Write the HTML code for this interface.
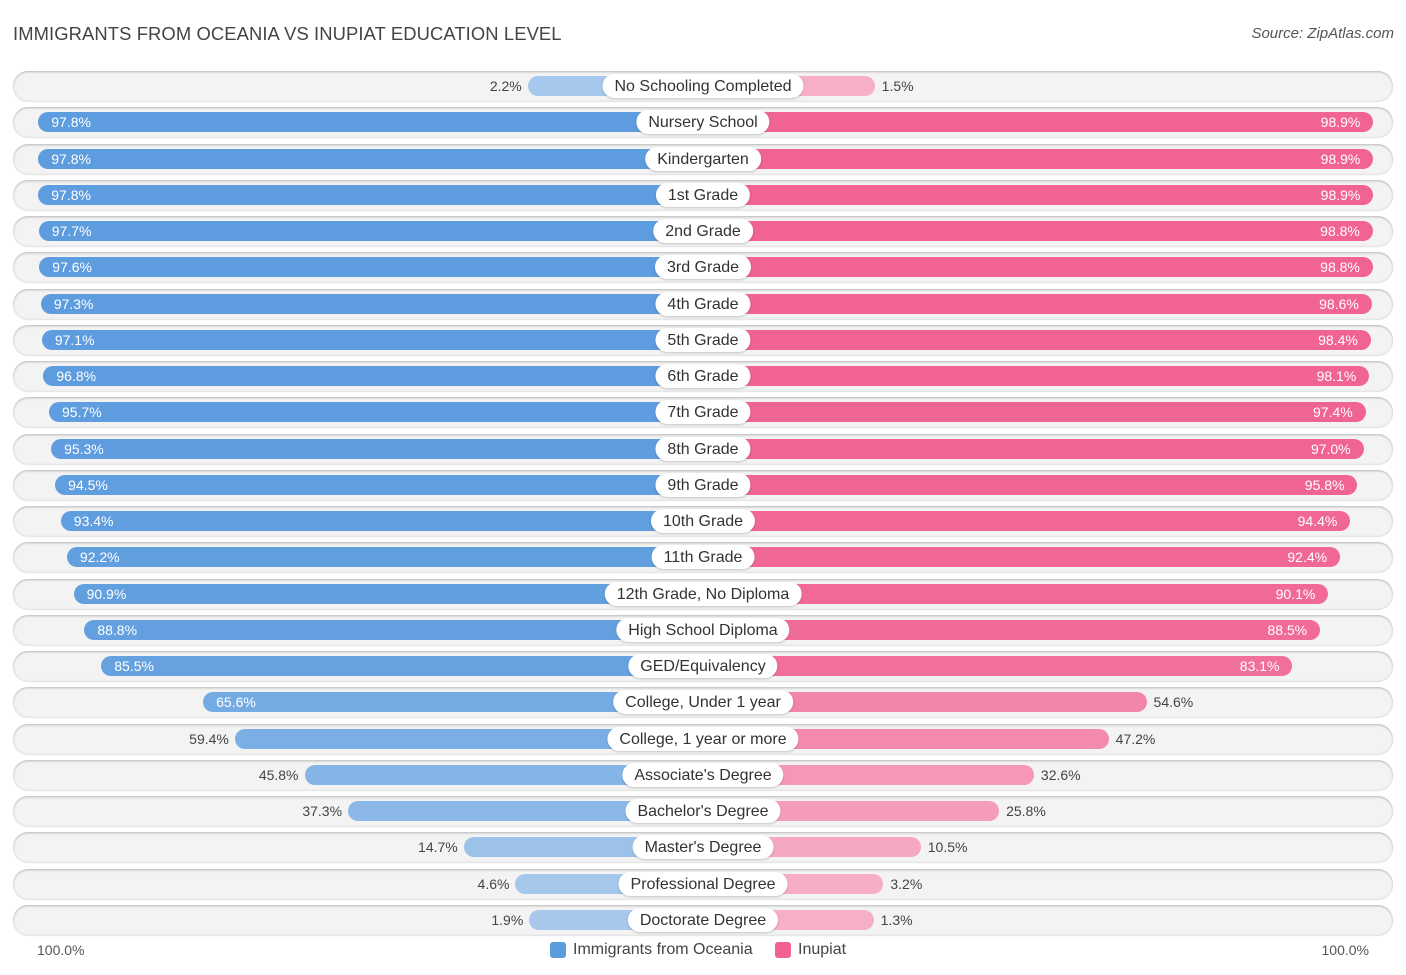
<!DOCTYPE html>
<html><head><meta charset="utf-8">
<style>
body{margin:0;background:#fff;font-family:"Liberation Sans",sans-serif;}
#wrap{position:relative;width:1406px;height:975px;overflow:hidden;}
.title{position:absolute;left:13px;top:23px;font-size:18.4px;color:#444;letter-spacing:0.1px}
.src{position:absolute;right:12px;top:25px;font-size:15px;color:#555;font-style:italic}
.row{position:absolute;left:13px;width:1380px;height:30px;border-radius:15px;background:#f3f3f3;box-shadow:0 1px 2px rgba(0,0,0,.25) inset, 0 1px 1px rgba(0,0,0,.12);}
.bar{position:absolute;height:20px;border-radius:10px;}
.lab{position:absolute;height:24px;line-height:25px;padding:0 12px;background:#fff;border-radius:12px;font-size:16px;color:#333;transform:translateX(-50%);white-space:nowrap;box-shadow:0 1px 2px rgba(0,0,0,.2)}
.val{position:absolute;font-size:14px;line-height:21px;white-space:nowrap}
.ax{position:absolute;top:942px;font-size:14px;color:#555}
.leg{position:absolute;top:941px;font-size:16px;color:#444;display:flex;align-items:center}
.sw{width:16px;height:16px;border-radius:3px;margin-right:7px}
</style></head><body>
<div id="wrap">
<div class="title">IMMIGRANTS FROM OCEANIA VS INUPIAT EDUCATION LEVEL</div>
<div class="src">Source: ZipAtlas.com</div>
<div class="ax" style="left:37px">100.0%</div>
<div class="ax" style="right:37px">100.0%</div>
<div class="leg" style="left:550px"><div class="sw" style="background:#5b9bde"></div>Immigrants from Oceania</div>
<div class="leg" style="left:775px"><div class="sw" style="background:#f06292"></div>Inupiat</div>
</div>
<script>
const categories=["No Schooling Completed","Nursery School","Kindergarten","1st Grade","2nd Grade","3rd Grade","4th Grade","5th Grade","6th Grade","7th Grade","8th Grade","9th Grade","10th Grade","11th Grade","12th Grade, No Diploma","High School Diploma","GED/Equivalency","College, Under 1 year","College, 1 year or more","Associate's Degree","Bachelor's Degree","Master's Degree","Professional Degree","Doctorate Degree"];
const oceania=[2.2,97.8,97.8,97.8,97.7,97.6,97.3,97.1,96.8,95.7,95.3,94.5,93.4,92.2,90.9,88.8,85.5,65.6,59.4,45.8,37.3,14.7,4.6,1.9];
const inupiat=[1.5,98.9,98.9,98.9,98.8,98.8,98.6,98.4,98.1,97.4,97.0,95.8,94.4,92.4,90.1,88.5,83.1,54.6,47.2,32.6,25.8,10.5,3.2,1.3];
const wrap=document.getElementById('wrap');
const cx=703;
function len(v){return 164+5.12*v;}
function rowY(i){return 86+i*36.26;}
function mix(a,b,t){return 'rgb('+a.map((x,k)=>Math.round(x+(b[k]-x)*t)).join(',')+')';}
const bL=[168,201,236],bD=[91,155,222],pL=[247,176,198],pD=[240,98,146];
categories.forEach((c,i)=>{
  const y=rowY(i);
  const r=document.createElement('div');r.className='row';r.style.top=(y-15)+'px';
  
  
  wrap.appendChild(r);
  const lv=oceania[i],rv=inupiat[i];
  const lw=len(lv),rw=len(rv);
  const b1=document.createElement('div');b1.className='bar';
  b1.style.left=(cx-lw)+'px';b1.style.width=lw+'px';b1.style.top=(y-10)+'px';
  b1.style.background=mix(bL,bD,lv/100);
  
  
  wrap.appendChild(b1);
  const b2=document.createElement('div');b2.className='bar';
  b2.style.left=cx+'px';b2.style.width=rw+'px';b2.style.top=(y-10)+'px';
  b2.style.background=mix(pL,pD,rv/100);
  
  
  wrap.appendChild(b2);
  const v1=document.createElement('div');v1.className='val';v1.textContent=lv.toFixed(1)+'%';v1.style.top=(y-10)+'px';
  if(lv>60){v1.style.left=(cx-lw+13)+'px';v1.style.color='#fff';}
  else{v1.style.right=(1406-(cx-lw)+6)+'px';v1.style.color='#444';}
  
  
  wrap.appendChild(v1);
  const v2=document.createElement('div');v2.className='val';v2.textContent=rv.toFixed(1)+'%';v2.style.top=(y-10)+'px';
  if(rv>60){v2.style.right=(1406-(cx+rw)+13)+'px';v2.style.color='#fff';}
  else{v2.style.left=(cx+rw+7)+'px';v2.style.color='#444';}
  
  
  wrap.appendChild(v2);
  const l=document.createElement('div');l.className='lab';l.textContent=c;l.style.left=cx+'px';l.style.top=(y-12)+'px';
  
  
  wrap.appendChild(l);
});
</script>
</body></html>
